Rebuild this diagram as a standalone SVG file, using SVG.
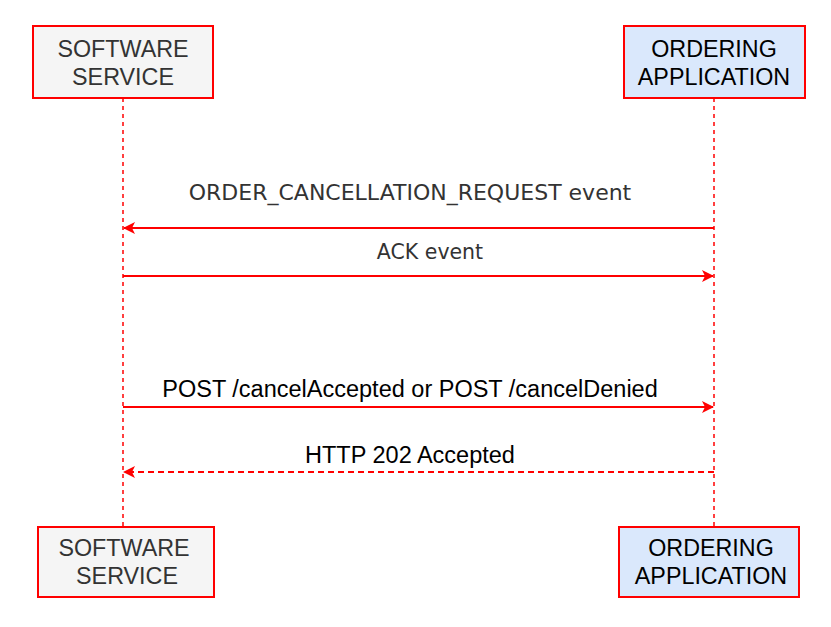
<svg xmlns="http://www.w3.org/2000/svg" width="831" height="627" viewBox="0 0 831 627">
<style>
.box{stroke:#ff0000;stroke-width:2}
.sw{fill:#f5f5f5}
.oa{fill:#dae8fc}
.lt{font-family:"Liberation Sans",Arial,sans-serif;font-size:23.3px;text-anchor:middle}
.life{stroke:#ff0000;stroke-width:1.5;stroke-dasharray:4 4;fill:none}
.msg{stroke:#ff0000;stroke-width:2;fill:none}
.dash{stroke-dasharray:6 4}
.dv{font-family:"DejaVu Sans",sans-serif;fill:#333333;text-anchor:middle}
.ls{font-family:"Liberation Sans",Arial,sans-serif;font-size:23.5px;fill:#000000;text-anchor:middle}
</style>
<defs>
<marker id="ah" viewBox="0 0 12 12" refX="11" refY="6" markerWidth="12" markerHeight="12" markerUnits="userSpaceOnUse" orient="auto">
<path d="M0,0 L12,6 L0,12 L3,6 Z" fill="#ff0000"/>
</marker>
</defs>
<g id="connectors">
<line class="life" x1="123" y1="98" x2="123" y2="527"/>
<line class="life" x1="714" y1="98" x2="714" y2="527"/>
<line class="msg" x1="714" y1="228" x2="124" y2="228" marker-end="url(#ah)"/>
<line class="msg" x1="123" y1="276" x2="713" y2="276" marker-end="url(#ah)"/>
<line class="msg" x1="123" y1="407" x2="713" y2="407" marker-end="url(#ah)"/>
<line class="msg dash" x1="714" y1="472" x2="124" y2="472" marker-end="url(#ah)"/>
<text class="dv" font-size="22" x="410" y="200">ORDER_CANCELLATION_REQUEST event</text>
<text class="dv" font-size="20.5" x="430" y="259">ACK event</text>
<text class="ls" x="410" y="397">POST /cancelAccepted or POST /cancelDenied</text>
<text class="ls" x="410" y="463">HTTP 202 Accepted</text>
</g>
<g id="sw-top">
<rect class="box sw" x="33" y="26" width="180" height="72"/>
<text class="lt" fill="#333333" x="123" y="57">SOFTWARE</text>
<text class="lt" fill="#333333" x="123" y="85">SERVICE</text>
</g>
<g id="oa-top">
<rect class="box oa" x="624" y="26" width="181" height="72"/>
<text class="lt" fill="#000000" x="714" y="57">ORDERING</text>
<text class="lt" fill="#000000" x="714" y="85">APPLICATION</text>
</g>
<g id="sw-bottom">
<rect class="box sw" x="38" y="527" width="176" height="70"/>
<text class="lt" fill="#333333" x="124" y="556">SOFTWARE</text>
<text class="lt" fill="#333333" x="127" y="584">SERVICE</text>
</g>
<g id="oa-bottom">
<rect class="box oa" x="619" y="527" width="180" height="70"/>
<text class="lt" fill="#000000" x="711" y="556">ORDERING</text>
<text class="lt" fill="#000000" x="711" y="584">APPLICATION</text>
</g>
</svg>
